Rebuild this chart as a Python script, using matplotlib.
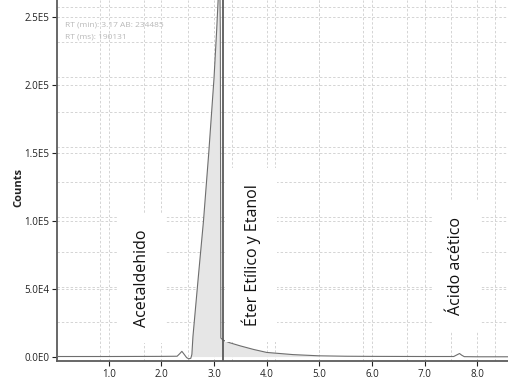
import numpy as np
import matplotlib
matplotlib.use("Agg")
import matplotlib.pyplot as plt

plt.rcParams['font.family'] = ['Open Sans', 'DejaVu Sans']

# Chromatogram trace: retention time (min) vs detector counts
time_min = [0.0, 0.5, 1.0, 1.5, 2.0, 2.3, 2.35, 2.39, 2.43, 2.48, 2.52, 2.56,
            2.58, 2.6, 2.7, 2.8, 2.9, 3.0, 3.05, 3.09, 3.11, 3.12, 3.13,
            3.17, 3.3, 3.5, 3.75, 4.0, 4.5, 5.0, 5.5, 6.0, 6.5, 7.0, 7.55,
            7.62, 7.66, 7.7, 7.75, 8.0, 8.6]
counts = [400, 400, 400, 450, 500, 600, 2500, 4200, 2200, -400, -1300, -900,
          2000, 15000, 58000, 100000, 150000, 205000, 240000, 272000, 280000,
          240000, 14000,
          12500, 10500, 8200, 5600, 3400, 1800, 900, 600, 500, 450, 400, 400,
          1800, 2600, 1400, 300, 200, 200]

# Integrated region (shaded)
fill_start, fill_end = 2.56, 5.0
rt_marker = 3.17

x_ticks = [1.0, 2.0, 3.0, 4.0, 5.0, 6.0, 7.0, 8.0]
x_ticklabels = ["1.0", "2.0", "3.0", "4.0", "5.0", "6.0", "7.0", "8.0"]
y_ticks = [0, 50000, 100000, 150000, 200000, 250000]
y_ticklabels = ["0.0E0", "5.0E4", "1.0E5", "1.5E5", "2.0E5", "2.5E5"]

peak_labels = ["Acetaldehido", "Éter Etílico y Etanol", "Ácido acético"]
peak_label_x = [1.64, 3.70, 7.60]
peak_label_y = [58000, 75000, 67000]

info_lines = ["RT (min): 3.17 AB: 234485", "RT (ms): 190131"]

W, H = 508, 381
fig = plt.figure(figsize=(W / 100, H / 100), dpi=100)
ax = fig.add_axes([57 / W, 20 / H, (W - 57) / W, (H - 20) / H])

ax.set_xlim(0.02, 8.58)
ax.set_ylim(-2900, 262500)

grid_kw = dict(color="#d4d4d4", lw=0.7, ls=(0, (2.5, 2)), zorder=0)
for gx in np.arange(1, 9):
    ax.axvline(gx, **grid_kw)
for gx in np.arange(1, 11) * (5 / 6):
    ax.axvline(gx, **grid_kw)
for gy in np.arange(1, 6) * 50000:
    ax.axhline(gy, **grid_kw)
for gy in np.arange(1, 11) * 25700:
    ax.axhline(gy, **grid_kw)

t = np.array(time_min)
c = np.array(counts)
mask = (t >= fill_start) & (t <= fill_end)
ax.fill_between(t[mask], 0, c[mask], color="#e6e6e6", zorder=2, lw=0)
ax.plot(t, c, color="#6e6e6e", lw=0.8, zorder=3)
ax.axvline(rt_marker, color="#5a5a5a", lw=1.3, zorder=4)

for lab, lx, ly in zip(peak_labels, peak_label_x, peak_label_y):
    ax.text(lx, ly, lab, rotation=90, ha="center", va="center",
            fontsize=11.5, color="#111111", zorder=5,
            bbox=dict(boxstyle="square,pad=1.0", fc="white", ec="none"))

for i, line in enumerate(info_lines):
    ax.text(8 / (W - 57), 1 - (25 + 12 * i) / (H - 20), line,
            transform=ax.transAxes, fontsize=6, color="#b8b8b8",
            ha="left", va="center", zorder=5)

for side in ("top", "right"):
    ax.spines[side].set_visible(False)
for side in ("left", "bottom"):
    ax.spines[side].set_color("#5c5c5c")
    ax.spines[side].set_linewidth(1.3)

ax.set_xticks(x_ticks)
ax.set_xticklabels(x_ticklabels)
ax.set_yticks(y_ticks)
ax.set_yticklabels(y_ticklabels)
ax.tick_params(axis="both", labelsize=7, colors="#222222", length=3.5,
               width=0.8, pad=2)

fig.text(19 / W, 1 - 188 / H, "Counts", rotation=90, fontsize=8,
         fontweight="bold", ha="center", va="center", color="#222222")

fig.savefig("out.png", dpi=100)
